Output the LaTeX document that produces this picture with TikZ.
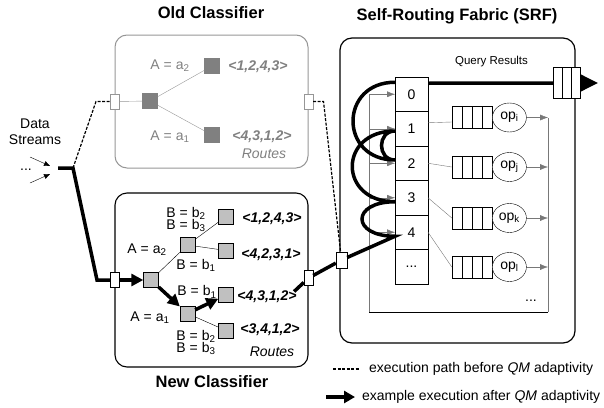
\documentclass[tikz,border=0pt]{standalone}
\usepackage{fontspec}
\setmainfont{Liberation Sans}
\usetikzlibrary{positioning,shapes,arrows.meta}

\definecolor{oldgray}{RGB}{150,150,150}
\definecolor{leafdark}{RGB}{128,128,128}
\definecolor{leaflight}{RGB}{192,192,192}
\definecolor{fabgray}{RGB}{120,120,120}

\tikzset{
	title/.style={font=\fontsize{16.5}{19}\selectfont\bfseries},
	rlabel/.style={font=\fontsize{14}{16}\selectfont\bfseries\itshape},
	pair/.style={align=left, inner sep=1pt, font=\fontsize{14}{12.5}\selectfont},
	port/.style={rectangle, draw, fill=white, minimum width=9pt, minimum height=15pt, inner sep=0pt},
	leaf/.style={rectangle, draw, minimum size=15pt, inner sep=0pt},
	route/.style={line width=3.5pt},
	oldpath/.style={line width=1.2pt, dash pattern=on 3pt off 1.5pt},
	slot/.style={rectangle, draw, minimum width=33pt, minimum height=34.5pt, inner sep=0pt, outer sep=0pt},
	buffer/.style={rectangle, draw, fill=white, minimum width=40pt, minimum height=22pt, inner sep=0pt,
		path picture={\foreach \k in {10,20,30} \draw ([xshift=\k pt]path picture bounding box.south west) -- ([xshift=\k pt]path picture bounding box.north west);}},
	resbuffer/.style={rectangle, draw, fill=white, minimum width=27pt, minimum height=31pt, inner sep=0pt,
		path picture={\foreach \k in {9,18} \draw ([xshift=\k pt]path picture bounding box.south west) -- ([xshift=\k pt]path picture bounding box.north west);}},
	opnode/.style={ellipse, draw, fill=white, minimum width=34pt, minimum height=29pt, inner sep=0pt},
	feed/.style={draw=fabgray, -{Latex[length=8pt,width=6pt]}},
}

\begin{document}
\begin{tikzpicture}[x=1pt, y=-1pt, font=\fontsize{14}{16}\selectfont]
	\useasboundingbox (0,0) rectangle (604,407);
	
	% titles
	\node[title] (toldc) at (211,13) {Old Classifier};
	\node[title] (tsrf) at (457,16) {Self-Routing Fabric (SRF)};
	\node[title] (tnewc) at (212,382) {New Classifier};
	
	% frames
	\node[draw=oldgray, line width=1pt, rounded corners=12pt, minimum width=193pt, minimum height=133pt] (oldc) at (211.5,101.5) {};
	\node[draw, line width=1.1pt, rounded corners=12pt, minimum width=193pt, minimum height=174pt] (newc) at (211.5,280) {};
	\node[draw, line width=1.2pt, rounded corners=12pt, minimum width=235pt, minimum height=305pt] (srf) at (457.5,190.5) {};
	
	% old classifier
	\node[port, draw=oldgray] (oldin) at (oldc.west) {};
	\node[port, draw=oldgray] (oldout) at (oldc.east) {};
	\begin{scope}[every node/.style={leaf, draw=leafdark, fill=leafdark}]
		\node (oroot) at (150,101) {};
		\node (oleafa) at (212,66) {};
		\node (oleafb) at (212,135) {};
	\end{scope}
	\path[draw=oldgray] (oldin) edge (oroot)
	(oroot) edge (oleafa)
	edge (oleafb);
	\node[text=leafdark] (lolda) at (170,66) {A = a\textsubscript{2}};
	\node[text=leafdark] (loldb) at (170,137) {A = a\textsubscript{1}};
	\node[rlabel, text=leafdark] (rolda) at (258,67) {<1,2,4,3>};
	\node[rlabel, text=leafdark] (roldb) at (262,137) {<4,3,1,2>};
	\node[text=leafdark, font=\fontsize{14}{16}\selectfont\itshape] (oroutes) at (264,154) {Routes};
	
	% new classifier
	\node[port] (newin) at (newc.west) {};
	\node[port] (newout) at ([yshift=2pt]newc.east) {};
	\begin{scope}[every node/.style={leaf, fill=leaflight}]
		\node (nroot) at (151,280) {};
		\node (nmida) at (187.5,245) {};
		\node (nmidb) at (187.5,313.5) {};
		\node (nleafa) at (226,216.5) {};
		\node (nleafb) at (226,250.5) {};
		\node (nleafc) at (226,295) {};
		\node (nleafd) at (226,330.5) {};
	\end{scope}
	\path[draw] (nroot) edge (nmida)
	(nmida) edge (nleafa)
	edge (nleafb)
	(nmidb) edge (nleafd);
	\node[pair] (lnewa) at (186,219.5) {B = b\textsubscript{2}\\B = b\textsubscript{3}};
	\node (lnewc) at (147,250) {A = a\textsubscript{2}};
	\node (lnewd) at (196,265.5) {B = b\textsubscript{1}};
	\node (lnewe) at (197,292) {B = b\textsubscript{1}};
	\node (lnewf) at (150,318) {A = a\textsubscript{1}};
	\node[pair] (lnewg) at (196,342.5) {B = b\textsubscript{2}\\B = b\textsubscript{3}};
	\node[rlabel] (rnewa) at (272,218.5) {<1,2,4,3>};
	\node[rlabel] (rnewb) at (271,255) {<4,2,3,1>};
	\node[rlabel] (rnewc) at (267,297) {<4,3,1,2>};
	\node[rlabel] (rnewd) at (270,330) {<3,4,1,2>};
	\node[font=\fontsize{14}{16}\selectfont\itshape] (nroutes) at (272,352) {Routes};
	
	% data streams
	\node[align=center] (dstream) at (35,132) {Data\\Streams};
	\node[anchor=base] (ddots) at (26,170) {...};
	\coordinate (dsa) at (30,157);
	\coordinate (dsatip) at (50,166);
	\coordinate (dsb) at (30,183);
	\coordinate (dsbtip) at (50,174);
	\draw[-{Triangle[length=6pt,width=5pt]}] (dsa) -- (dsatip);
	\draw[-{Triangle[length=6pt,width=5pt]}] (dsb) -- (dsbtip);
	\coordinate (fin) at (58,168);
	\coordinate (fork) at (73,168);
	\coordinate (fbendn) at (97,280);
	\coordinate (fbendo) at (96,101.5);
	\draw[oldpath] (fork) -- (fbendo) -- (oldin);
	\draw[route] (fin) -- (fork) -- (fbendn) -- (newin);
	\draw[route, -{Triangle[length=12pt,width=12pt]}] (newin) -- (nroot);
	\draw[route, -{Triangle[length=12pt,width=12pt]}] (nroot) -- (nmidb);
	\draw[route, -{Triangle[length=12pt,width=12pt]}] (nmidb) -- (nleafc);
	
	% self-routing fabric
	\node[port, minimum width=11pt, minimum height=16pt] (srfin) at (341.5,260) {};
	\node[slot] (s0) at (411.5,94.25) {0};
	\node[slot, below=0pt of s0] (s1) {1};
	\node[slot, below=0pt of s1] (s2) {2};
	\node[slot, below=0pt of s2] (s3) {3};
	\node[slot, below=0pt of s3] (s4) {4};
	\node[slot, below=0pt of s4] (s5) {...};
	
	\coordinate (fl) at (369,94.25);
	\coordinate (fbl) at (369,312);
	\coordinate (fbr) at (548,312);
	\coordinate (fr) at (548,117.5);
	\draw[fabgray] (fl) -- (fbl);
	\draw (fbl) -- (fbr);
	\draw[fabgray] (fbr) -- (fr);
	\foreach \s in {s0,s1,s2,s3,s4}
	\draw[feed] (\s.west -| fl) -- (\s);
	
	\node[buffer] (qi) at (472,117.5) {};
	\node[buffer] (qj) at (472,167) {};
	\node[buffer] (qk) at (472,218) {};
	\node[buffer] (ql) at (472,267) {};
	\node[opnode, right=0pt of qi] (oi) {op\textsubscript{i}};
	\node[opnode, right=0pt of qj] (oj) {op\textsubscript{j}};
	\node[opnode, right=0pt of qk] (ok) {op\textsubscript{k}};
	\node[opnode, right=0pt of ql] (ol) {op\textsubscript{l}};
	\path[draw=fabgray] ([yshift=6pt]s1.east) edge ([yshift=-4.5pt]qi.west)
	(s2.east) edge (qj.west)
	(s3.east) edge (qk.west)
	(s4.east) edge (ql.west);
	\foreach \o in {oi,oj,ok,ol}
	\draw[feed] (\o) -- (\o -| fr);
	\node[anchor=base] (odots) at (531,301) {...};
	
	\node[font=\fontsize{11.5}{13}\selectfont] (qres) at (491.5,62) {Query Results};
	\node[resbuffer] (qr) at (566.5,83) {};
	\coordinate (qout) at (598,83);
	
	% execution paths
	\draw[oldpath] (oldout) -- ++(15,0) -- (srfin);
	\draw[route] ([xshift=-6pt,yshift=-4pt]rnewc.north east) -- (newout) -- (srfin) -- ([yshift=-4pt]s4.west)
	.. controls +(-44,0) and +(-44,0) .. ([yshift=-4pt]s3.west)
	.. controls +(-57,0) and +(-57,0) .. ([yshift=-2.25pt]s1.west)
	.. controls +(-18,0) and +(-18,0) .. ([yshift=3.25pt]s2.west)
	.. controls +(-56,0) and +(-56,0) .. ([yshift=12pt]s0.west);
	\draw[route] ([yshift=11pt]s0.east) -- (qr);
	\draw[route, -{Triangle[length=17pt,width=16pt]}] (qr) -- (qout);
	
	% legend
	\coordinate (lga) at (333,369);
	\coordinate (lgb) at (360,369);
	\draw[oldpath] (lga) -- (lgb);
	\node[anchor=west] (lgold) at (365.5,369) {execution path before \textit{QM} adaptivity};
	\coordinate (lgc) at (326,397);
	\coordinate (lgd) at (355,397);
	\draw[route, -{Triangle[length=11pt,width=12pt]}] (lgc) -- (lgd);
	\node[anchor=west] (lgnew) at (358.5,397) {example execution after \textit{QM} adaptivity};
\end{tikzpicture}
\end{document}
